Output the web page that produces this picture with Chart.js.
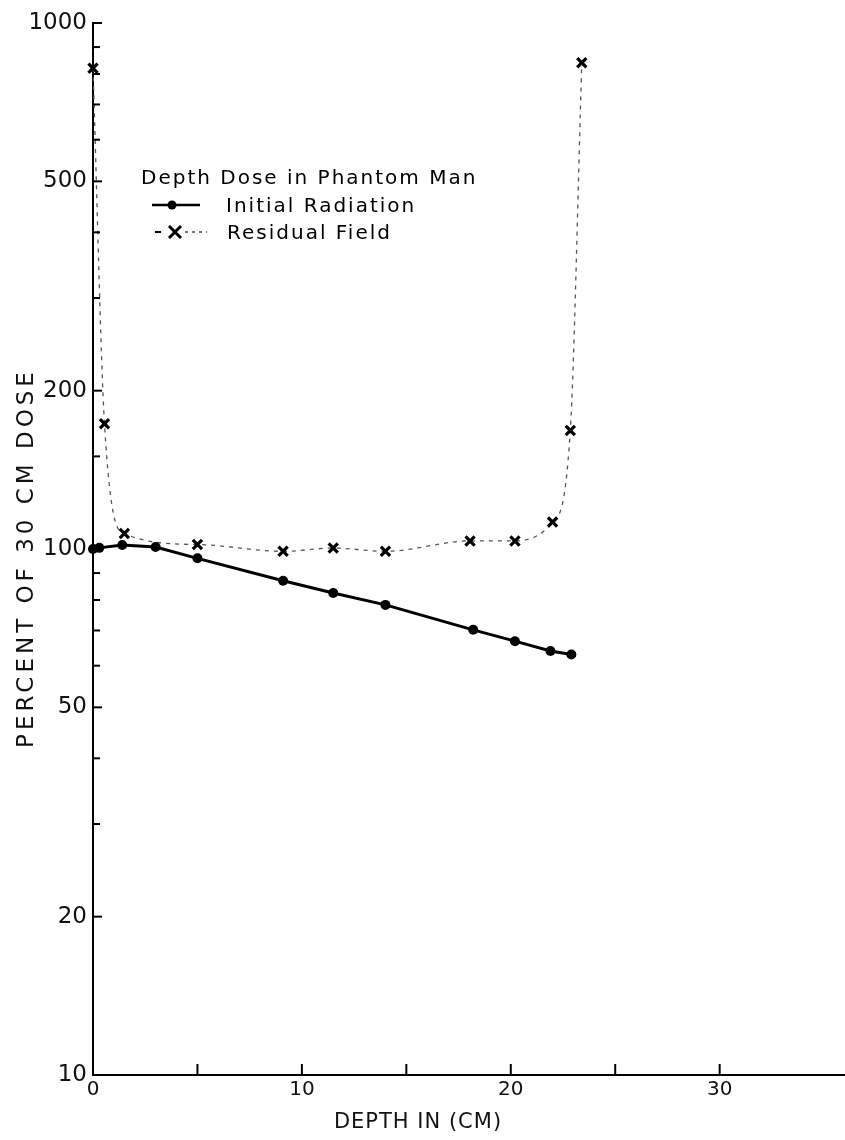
<!DOCTYPE html>
<html><head><meta charset="utf-8">
<script src="https://cdn.jsdelivr.net/npm/chart.js@4.4.0/dist/chart.umd.min.js"></script>
<style>
html,body{margin:0;padding:0;background:#fff;}
#wrap{position:relative;width:845px;height:1140px;overflow:hidden;}
.lg{position:absolute;font-family:"DejaVu Sans",sans-serif;font-size:20px;color:#000;letter-spacing:2px;white-space:nowrap;line-height:24px;}
.sw{position:absolute;}
</style></head><body>
<div id="wrap">
<canvas id="c" width="845" height="1140"></canvas>
<div class="lg" style="left:141px;top:165px;">Depth Dose in Phantom Man</div>
<svg class="sw" style="left:150px;top:195px" width="60" height="20"><line x1="2" y1="10" x2="50" y2="10" stroke="#000" stroke-width="2.5"/><circle cx="22" cy="10" r="4.5" fill="#000"/></svg>
<div class="lg" style="left:226px;top:193px;">Initial Radiation</div>
<svg class="sw" style="left:153px;top:222px" width="60" height="20"><line x1="2" y1="10" x2="8" y2="10" stroke="#000" stroke-width="2"/><path d="M16 4 L28 16 M28 4 L16 16" stroke="#000" stroke-width="3"/><line x1="32" y1="10" x2="54" y2="10" stroke="#444" stroke-width="1.5" stroke-dasharray="3,4"/></svg>
<div class="lg" style="left:227px;top:220px;">Residual Field</div>
</div>
<script>
// Initial Radiation (dots)
const initialDepth = [0, 0.3, 1.4, 3.0, 5.0, 9.1, 11.5, 14.0, 18.2, 20.2, 21.9, 22.9];
const initialDose  = [100, 100.5, 101.8, 100.9, 96, 87, 82.5, 78.3, 70.2, 66.8, 64, 63];
// Residual Field (x marks)
const residualDepth = [0, 0.55, 1.5, 5.0, 9.1, 11.5, 14.0, 18.05, 20.2, 22.0, 22.85, 23.4];
const residualDose  = [820, 173, 107, 102, 99, 100.4, 99, 103.6, 103.6, 112.5, 168, 840];
// Tick labels
const yLabelled = [10, 20, 50, 100, 200, 500, 1000];
const xLabelled = [0, 10, 20, 30];
const xLastTick = 30;

const FONT = '"DejaVu Sans", sans-serif';

function styleTitle(s, spacing, dx, dy) {
  if (s._styled) return;
  s._styled = true;
  const orig = s.drawTitle;
  s.drawTitle = function () {
    const ctx = this.ctx;
    ctx.save();
    try { ctx.letterSpacing = spacing; } catch (e) {}
    ctx.translate(dx, dy);
    orig.call(this);
    ctx.restore();
  };
}

const inwardTicks = {
  id: 'inwardTicks',
  afterDatasetsDraw(chart) {
    const {ctx, chartArea: a, scales: {x, y}} = chart;
    ctx.save();
    ctx.strokeStyle = '#000';
    ctx.lineWidth = 2;
    y.ticks.forEach(t => {
      const p = y.getPixelForValue(t.value);
      const major = yLabelled.includes(Math.round(t.value));
      ctx.beginPath(); ctx.moveTo(a.left, p); ctx.lineTo(a.left + (major ? 9 : 7), p); ctx.stroke();
    });
    x.ticks.filter(t => t.value <= xLastTick).forEach(t => {
      const p = x.getPixelForValue(t.value);
      ctx.beginPath(); ctx.moveTo(p, a.bottom); ctx.lineTo(p, a.bottom - 11); ctx.stroke();
    });
    ctx.restore();
  }
};

new Chart(document.getElementById('c'), {
  type: 'scatter',
  data: {
    datasets: [
      {
        label: 'Initial Radiation',
        data: initialDepth.map((d, i) => ({x: d, y: initialDose[i]})),
        showLine: true,
        borderColor: '#000',
        borderWidth: 3,
        backgroundColor: '#000',
        pointRadius: 5,
        pointBorderWidth: 0,
        tension: 0,
        clip: false
      },
      {
        label: 'Residual Field',
        data: residualDepth.map((d, i) => ({x: d, y: residualDose[i]})),
        showLine: true,
        borderColor: '#555',
        borderWidth: 1.3,
        borderDash: [4, 5],
        cubicInterpolationMode: 'monotone',
        pointStyle: 'crossRot',
        pointRadius: 6.5,
        pointBorderWidth: 3.2,
        pointBorderColor: '#000',
        backgroundColor: '#000',
        clip: false
      }
    ]
  },
  options: {
    responsive: false,
    animation: false,
    devicePixelRatio: 1,
    layout: {autoPadding: false, padding: {top: 23, right: 0, left: 0, bottom: 0}},
    plugins: {legend: {display: false}, tooltip: {enabled: false}},
    scales: {
      x: {
        type: 'linear',
        min: 0, max: 36,
        ticks: {
          stepSize: 5, includeBounds: false, autoSkip: false, maxRotation: 0,
          callback: v => xLabelled.includes(v) ? String(v) : '',
          font: {family: FONT, size: 20}, color: '#111', padding: 3
        },
        grid: {drawOnChartArea: false, drawTicks: false},
        border: {color: '#000', width: 2},
        title: {display: true, text: 'DEPTH IN (CM)', font: {family: FONT, size: 21}, color: '#111', padding: {top: 4, bottom: 5}},
        afterFit: s => { s.height = 65; s.paddingLeft = 0; s.paddingRight = 0; styleTitle(s, '1px', -51, 0); }
      },
      y: {
        type: 'logarithmic',
        min: 10, max: 1000,
        ticks: {
          autoSkip: false,
          callback: v => yLabelled.includes(Math.round(v)) ? String(Math.round(v)) : '',
          font: {family: FONT, size: 23}, color: '#111', padding: 6
        },
        grid: {drawOnChartArea: false, drawTicks: false},
        border: {color: '#000', width: 2},
        title: {display: true, text: 'PERCENT OF 30 CM DOSE', font: {family: FONT, size: 23}, color: '#111', padding: {top: 13, bottom: 0}},
        afterFit: s => { s.width = 93; styleTitle(s, '4px', 0, 9); }
      }
    }
  },
  plugins: [inwardTicks]
});
</script>
</body></html>
